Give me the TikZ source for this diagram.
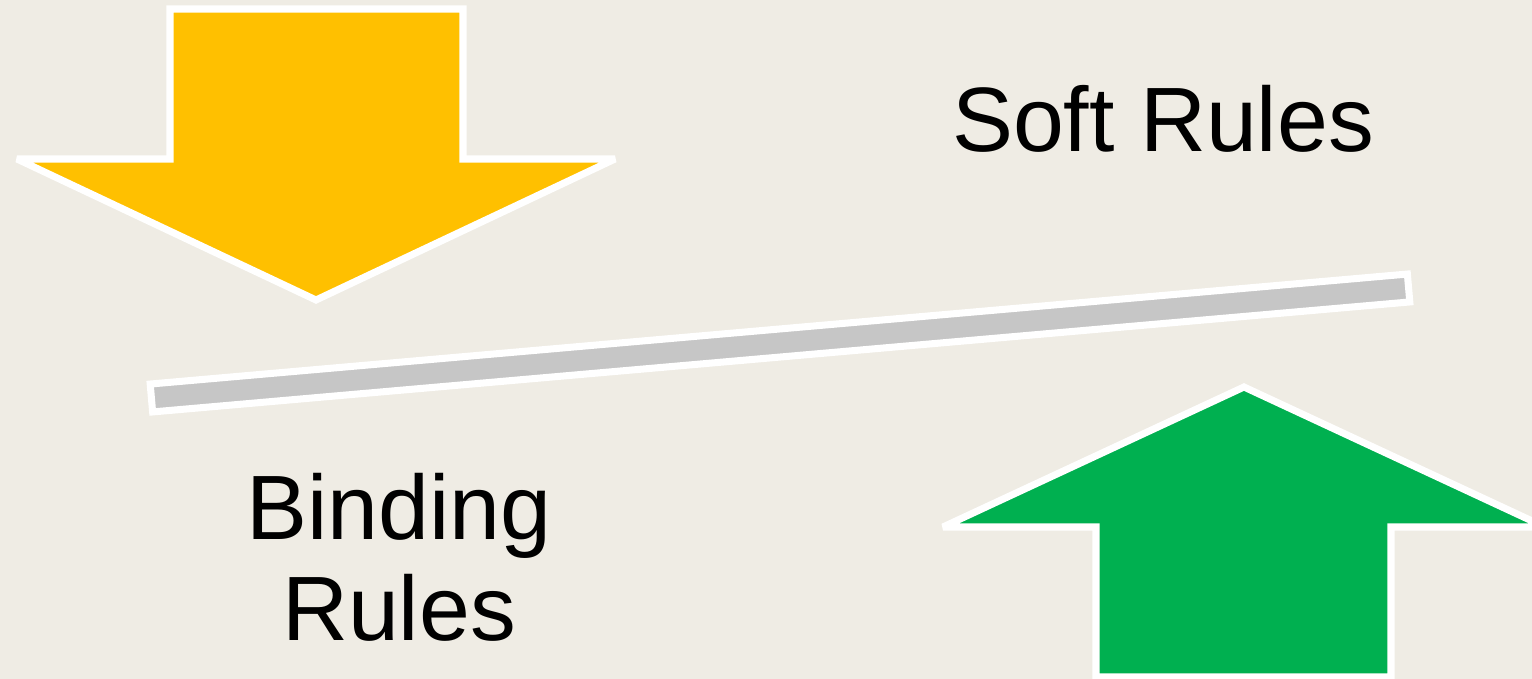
\documentclass[tikz,border=0pt]{standalone}
\usepackage{fontspec}
\setmainfont{Liberation Sans}
\usepackage{tikz}
\definecolor{paper}{RGB}{239,236,228}
\definecolor{gold}{RGB}{255,192,0}
\definecolor{leaf}{RGB}{0,176,80}
\definecolor{beam}{RGB}{198,198,198}
\tikzset{
  blockarrow/.style={draw=white,line width=2pt,line join=miter,miter limit=2},
  lbl/.style={font=\fontsize{26}{28.5}\selectfont,align=center,inner sep=0pt,anchor=base},
}
\begin{document}
\begin{tikzpicture}[x=0.01cm,y=-0.01cm]
  % page in pixel units
  \fill[paper] (0,0) rectangle (1532,679);
  \useasboundingbox (0,0) rectangle (1532,679);
  % pushing down
  \filldraw[blockarrow,fill=gold] (170,9) -- (463,9) -- (463,159) -- (615,159)
    -- (316,300) -- (17,159) -- (170,159) -- cycle;
  % pushing up
  \filldraw[blockarrow,fill=leaf] (1096,677) -- (1096,527) -- (943,527)
    -- (1244,387) -- (1545,527) -- (1391,527) -- (1391,677) -- cycle;
  % the tilted beam
  \begin{scope}[shift={(780,343)},rotate=5]
    \filldraw[blockarrow,fill=beam] (-631,-14) rectangle (631,14);
  \end{scope}
  \node[lbl] (soft) at (1163,152) {Soft Rules};
  \node[lbl] (binding) at (399,640) {Binding\\Rules};
\end{tikzpicture}
\end{document}
